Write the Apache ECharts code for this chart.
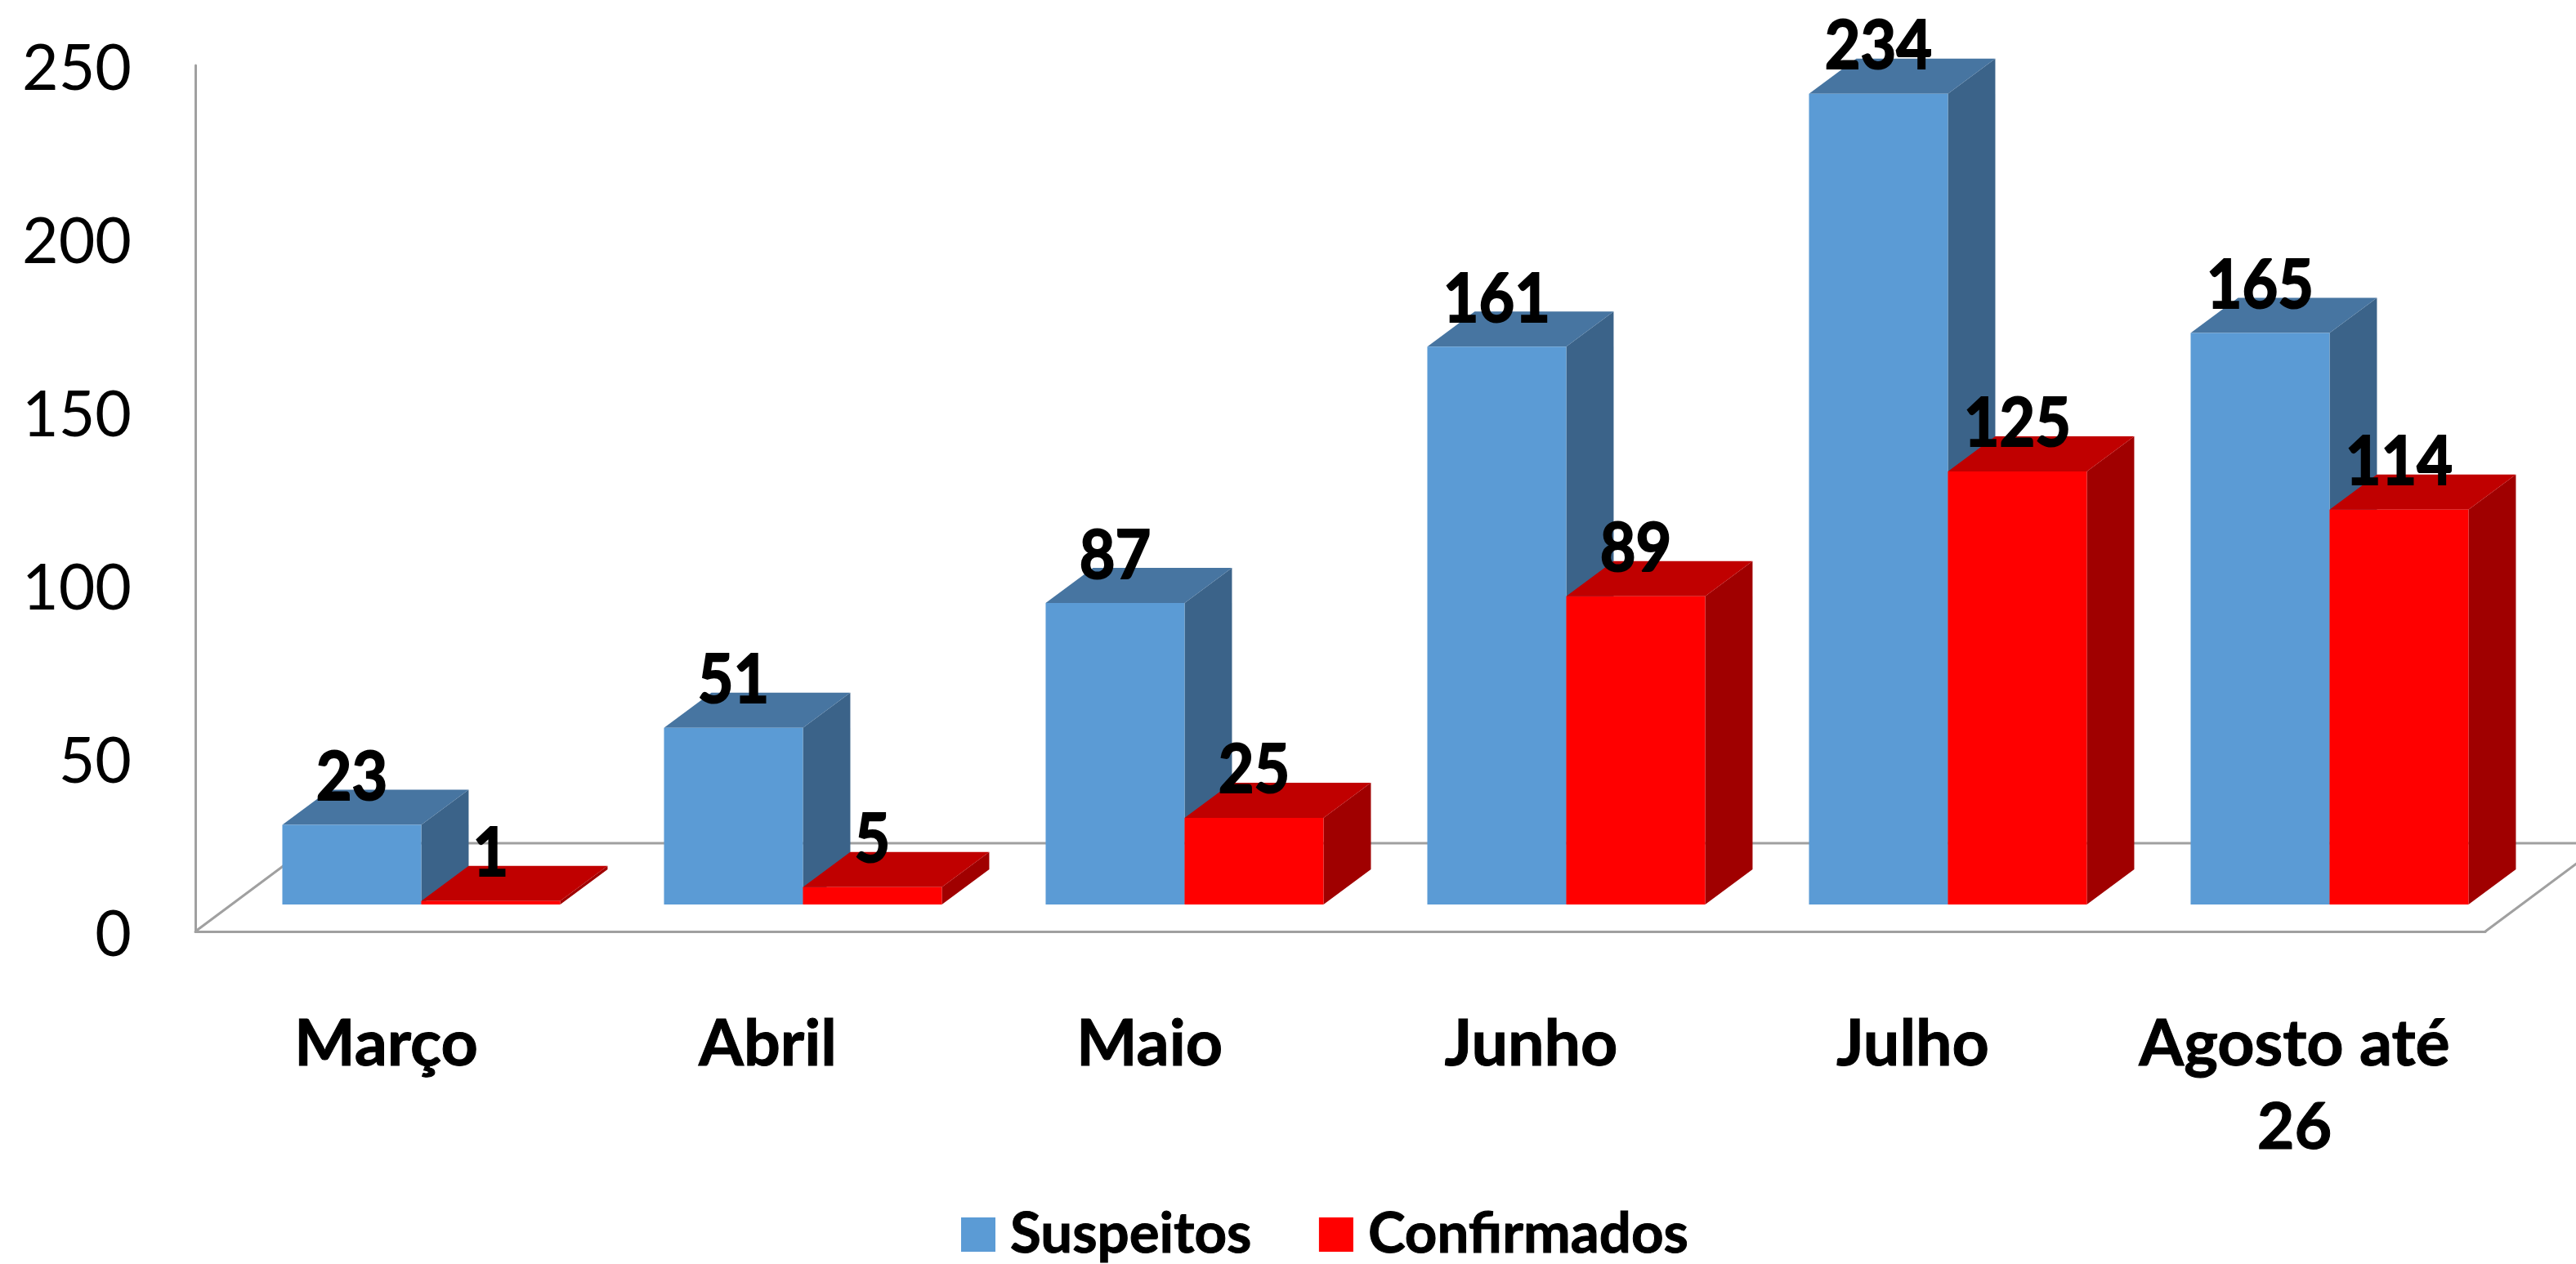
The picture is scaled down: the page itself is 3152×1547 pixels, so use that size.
<!DOCTYPE html>
<html>
<head>
<meta charset="utf-8">
<title>Suspeitos e Confirmados</title>
<style>
	html, body { margin: 0; padding: 0; background: #fff; }
	#chart_1 { width: 3152px; height: 1547px; }
</style>
<script src="https://cdn.jsdelivr.net/npm/echarts@6/dist/echarts.min.js"></script>
</head>
<body>
<div id="chart_1"></div>
<script>
var categories = ['Março', 'Abril', 'Maio', 'Junho', 'Julho', 'Agosto até\n26'];
var suspeitos = [23, 51, 87, 161, 234, 165];
var confirmados = [1, 5, 25, 89, 125, 114];

var LABEL_FONT = 'Lato, "Noto Sans", sans-serif';
var DEPTH_X = 58;
var DEPTH_Y = 43;
var LIFT_Y = 33; // the bars stand a little behind the front edge of the floor

// draws one 3d bar: front, top and side, plus the value over it
function makeBar(slot, front, top, side) {
	return function (params, api) {
		var i = api.value(0);
		var v = api.value(1);
		var band = api.size([1, 0])[0];
		var w = band * 0.364;
		var base = api.coord([i, 0]);
		var head = api.coord([i, v]);
		var x0 = base[0] - band * 0.272 + slot * w;
		var x1 = x0 + w;
		var y0 = base[1] - LIFT_Y;
		var y1 = head[1] - LIFT_Y;
		return {
			type: 'group',
			children: [{
				type: 'polygon',
				shape: { points: [[x1, y0], [x1 + DEPTH_X, y0 - DEPTH_Y], [x1 + DEPTH_X, y1 - DEPTH_Y], [x1, y1]] },
				style: { fill: side }
			}, {
				type: 'polygon',
				shape: { points: [[x0, y1], [x0 + DEPTH_X, y1 - DEPTH_Y], [x1 + DEPTH_X, y1 - DEPTH_Y], [x1, y1]] },
				style: { fill: top }
			}, {
				type: 'rect',
				shape: { x: x0, y: y1, width: w, height: y0 - y1 },
				style: { fill: front }
			}, {
				type: 'text',
				z2: 100,
				x: (x0 + x1) / 2,
				y: y1 - 57,
				scaleX: 0.92,
				style: {
					text: String(v),
					x: 0,
					y: 0,
					align: 'center',
					verticalAlign: 'middle',
					fontFamily: LABEL_FONT,
					fontWeight: 'bold',
					fontSize: 82,
					fill: '#000',
					stroke: '#000',
					lineWidth: 2
				}
			}]
		};
	};
}

// floor of the 3d box, only the outline shows in the picture
function renderFloor(params, api) {
	var box = params.coordSys;
	var left = box.x;
	var right = box.x + box.width;
	var front = box.y + box.height;
	var back = front - 108;
	var lineStyle = { stroke: '#A0A0A0', lineWidth: 3, fill: 'none' };
	return {
		type: 'group',
		children: [{
			type: 'polyline',
			shape: { points: [[left, front], [left + 145, back], [right + 145, back], [right, front]] },
			style: lineStyle
		}]
	};
}

var myChart = echarts.init(document.getElementById('chart_1'));
var option = {
	backgroundColor: '#fff',
	animation: false,
	grid: { left: 239, right: 111, top: 80, bottom: 407 },
	legend: {
		left: 1176,
		top: 1476,
		padding: 0,
		itemWidth: 42,
		itemHeight: 42,
		itemGap: 82,
		data: [{ name: 'Suspeitos', icon: 'rect' }, { name: 'Confirmados', icon: 'rect' }],
		textStyle: {
			fontFamily: LABEL_FONT,
			fontWeight: 'bold',
			fontSize: 69,
			color: '#000',
			textBorderColor: '#000',
			textBorderWidth: 1,
			padding: [0, 0, 0, 13]
		}
	},
	xAxis: {
		type: 'category',
		data: categories,
		axisTick: { show: false },
		axisLine: { show: true, lineStyle: { color: '#A0A0A0', width: 3 } },
		axisLabel: {
			margin: 88,
			interval: 0,
			fontFamily: LABEL_FONT,
			fontWeight: 'bold',
			fontSize: 79,
			lineHeight: 102,
			color: '#000',
			textBorderColor: '#000',
			textBorderWidth: 1
		}
	},
	yAxis: {
		type: 'value',
		min: 0,
		max: 250,
		interval: 50,
		splitLine: { show: false },
		axisTick: { show: false },
		axisLine: { show: true, lineStyle: { color: '#A0A0A0', width: 3 } },
		axisLabel: {
			margin: 78,
			formatter: '{v|{value}}',
			rich: {
				v: {
					fontFamily: LABEL_FONT,
					fontSize: 77,
					color: '#000',
					padding: [10, 0, 0, 0]
				}
			}
		}
	},
	series: [{
		type: 'custom',
		name: 'floor',
		silent: true,
		renderItem: renderFloor,
		data: [[0, 0]],
		encode: { x: 0, y: 1 }
	}, {
		type: 'custom',
		name: 'Suspeitos',
		itemStyle: { color: '#5B9BD5' },
		renderItem: makeBar(0, '#5B9BD5', '#4775A1', '#3B6389'),
		data: suspeitos.map(function (v, i) { return [i, v]; }),
		encode: { x: 0, y: 1 }
	}, {
		type: 'custom',
		name: 'Confirmados',
		itemStyle: { color: '#FF0000' },
		renderItem: makeBar(1, '#FF0000', '#C00000', '#A00000'),
		data: confirmados.map(function (v, i) { return [i, v]; }),
		encode: { x: 0, y: 1 }
	}]
};
myChart.setOption(option);
</script>
</body>
</html>
